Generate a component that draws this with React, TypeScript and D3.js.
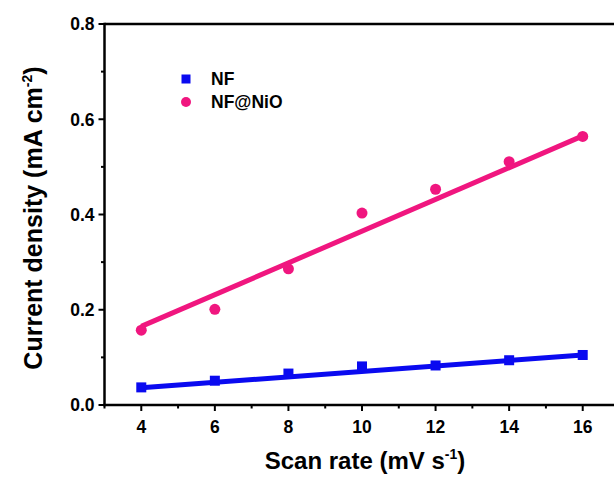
import React from "react";
import * as d3 from "d3";

const scanRates = [4, 6, 8, 10, 12, 14, 16];
const nfValues = [0.037, 0.051, 0.066, 0.081, 0.083, 0.094, 0.105];
const nioValues = [0.157, 0.201, 0.286, 0.403, 0.453, 0.511, 0.564];
const nfFit = [0.036, 0.105];
const nioFit = [0.165, 0.565];
const fitX = [4, 16];
const xTicks = [4, 6, 8, 10, 12, 14, 16];
const xMinor = [3, 5, 7, 9, 11, 13, 15, 17];
const yTicks = [0, 0.2, 0.4, 0.6, 0.8];
const yMinor = [0.1, 0.3, 0.5, 0.7];
const seriesNames = ["NF", "NF@NiO"];

const BLUE = "#0a0af0";
const PINK = "#f0167f";
const FONT = "'Liberation Sans', Arial, sans-serif";

export default function App() {
  const W = 614, H = 477;
  const x = d3.scaleLinear().domain([3, 17]).range([104.5, 619.5]);
  const y = d3.scaleLinear().domain([0, 0.8]).range([405, 24]);
  const line = d3.line<[number, number]>().x(d => x(d[0])).y(d => y(d[1]));
  const nfPts = scanRates.map((r, i) => [r, nfValues[i]] as [number, number]);
  const nioPts = scanRates.map((r, i) => [r, nioValues[i]] as [number, number]);
  const nfLine = fitX.map((r, i) => [r, nfFit[i]] as [number, number]);
  const nioLine = fitX.map((r, i) => [r, nioFit[i]] as [number, number]);
  const x0 = x(3), y0 = y(0);

  return (
    <svg width={W} height={H} style={{ position: "absolute", left: 0, top: 0, background: "#fff" }} fontFamily={FONT}>
      {/* fit lines */}
      <path d={line(nioLine) || ""} stroke={PINK} strokeWidth={5} fill="none" />
      <path d={line(nfLine) || ""} stroke={BLUE} strokeWidth={5} fill="none" />
      {/* markers */}
      {nioPts.map((p, i) => (
        <circle key={"c" + i} cx={x(p[0])} cy={y(p[1])} r={5.5} fill={PINK} />
      ))}
      {nfPts.map((p, i) => (
        <rect key={"s" + i} x={x(p[0]) - 5} y={y(p[1]) - 5} width={10} height={10} fill={BLUE} />
      ))}
      {/* frame */}
      <line x1={x0} y1={y(0.8)} x2={W + 10} y2={y(0.8)} stroke="#000" strokeWidth={2.5} />
      <line x1={x0} y1={y(0.8) - 1.2} x2={x0} y2={y0 + 1.2} stroke="#000" strokeWidth={2.5} />
      <line x1={x0 - 1.2} y1={y0} x2={W + 10} y2={y0} stroke="#000" strokeWidth={2.5} />
      {/* y ticks */}
      {yTicks.map(t => (
        <g key={"yt" + t}>
          <line x1={x0 - 6} x2={x0} y1={y(t)} y2={y(t)} stroke="#000" strokeWidth={2} />
          <text x={x0 - 10} y={y(t)} dy="0.36em" textAnchor="end" fontSize={17.5} fontWeight="bold">{t.toFixed(1)}</text>
        </g>
      ))}
      {yMinor.map(t => (
        <line key={"ym" + t} x1={x0 - 3.5} x2={x0} y1={y(t)} y2={y(t)} stroke="#000" strokeWidth={2} />
      ))}
      {/* x ticks */}
      {xTicks.map(t => (
        <g key={"xt" + t}>
          <line x1={x(t)} x2={x(t)} y1={y0} y2={y0 + 6} stroke="#000" strokeWidth={2} />
          <text x={x(t)} y={433} textAnchor="middle" fontSize={17.5} fontWeight="bold">{t}</text>
        </g>
      ))}
      {xMinor.map(t => (
        <line key={"xm" + t} x1={x(t)} x2={x(t)} y1={y0} y2={y0 + 3.5} stroke="#000" strokeWidth={2} />
      ))}
      {/* axis titles */}
      <text x={365} y={469} textAnchor="middle" fontSize={24} fontWeight="bold">
        Scan rate (mV s<tspan dy={-10} fontSize={14}>-1</tspan><tspan dy={10}>)</tspan>
      </text>
      <text transform="translate(42,218) rotate(-90)" textAnchor="middle" fontSize={25} fontWeight="bold">
        Current density (mA cm<tspan dy={-10} fontSize={14}>-2</tspan><tspan dy={10}>)</tspan>
      </text>
      {/* legend */}
      <rect x={186 - 4.5} y={79 - 4.5} width={9} height={9} fill={BLUE} />
      <text x={211} y={79} dy="0.36em" fontSize={17.5} fontWeight="bold">{seriesNames[0]}</text>
      <circle cx={186} cy={102} r={5} fill={PINK} />
      <text x={211} y={102} dy="0.36em" fontSize={17.5} fontWeight="bold">{seriesNames[1]}</text>
    </svg>
  );
}
